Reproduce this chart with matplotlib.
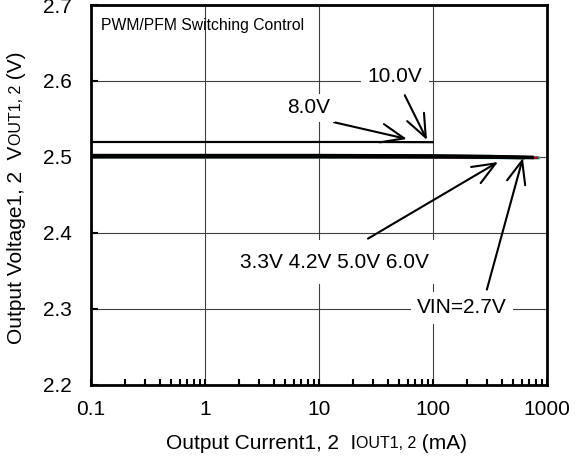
import matplotlib
matplotlib.use("Agg")
from matplotlib import pyplot as plt
from matplotlib.ticker import FixedLocator, LogLocator, NullFormatter

plt.rcParams['font.family'] = ['Liberation Sans', 'DejaVu Sans']

# Data
iout_hi = [0.1, 1, 10, 30, 100]
vout_8v = [2.5195, 2.5195, 2.5195, 2.5195, 2.5192]
vout_10v = [2.5200, 2.5200, 2.5200, 2.5200, 2.5197]

iout_27 = [0.1, 1, 10, 100, 300, 620]
vout_27 = [2.5005, 2.5005, 2.5005, 2.5003, 2.4998, 2.4990]
iout_33 = [0.1, 1, 10, 100, 300, 740]
vout_33 = [2.5020, 2.5020, 2.5020, 2.5015, 2.5008, 2.4995]
vout_42 = [2.5012, 2.5012, 2.5012, 2.5010, 2.5004, 2.4993]
iout_50 = [0.1, 1, 10, 100, 300, 820]
vout_50 = [2.5000, 2.5000, 2.5000, 2.4998, 2.4994, 2.4990]
iout_60 = [0.1, 1, 10, 100, 300, 850]
vout_60 = [2.4995, 2.4995, 2.4995, 2.4993, 2.4990, 2.4988]

x_ticks = [0.1, 1, 10, 100, 1000]
x_labels = ["0.1", "1", "10", "100", "1000"]
y_ticks = [2.2, 2.3, 2.4, 2.5, 2.6, 2.7]
y_labels = ["2.2", "2.3", "2.4", "2.5", "2.6", "2.7"]


def main():
    fig = plt.figure(figsize=(5.86, 4.63), dpi=100)
    ax = fig.add_axes([0.1553, 0.1685, 0.7781, 0.8207])

    ax.set_xscale("log")
    ax.set_xlim(0.1, 1000)
    ax.set_ylim(2.2, 2.7)

    # curves
    ax.plot(iout_60, vout_60, color="#20c0c0", lw=2)
    ax.plot(iout_50, vout_50, color="#a01010", lw=2)
    ax.plot(iout_33, vout_33, color="black", lw=2.4)
    ax.plot(iout_33, vout_42, color="black", lw=2.4)
    ax.plot(iout_27, vout_27, color="black", lw=2.4)
    ax.plot(iout_hi, vout_8v, color="black", lw=1.3)
    ax.plot(iout_hi, vout_10v, color="black", lw=1.3)

    # grid and ticks
    ax.grid(True, which="major", color="#404040", lw=0.8)
    ax.set_axisbelow(True)
    ax.xaxis.set_major_locator(FixedLocator(x_ticks))
    ax.set_xticklabels(x_labels)
    ax.xaxis.set_minor_locator(LogLocator(base=10, subs=range(2, 10)))
    ax.xaxis.set_minor_formatter(NullFormatter())
    ax.set_yticks(y_ticks)
    ax.set_yticklabels(y_labels)
    ax.tick_params(axis="x", which="both", direction="in", length=4, width=1.5,
                   pad=11, labelsize=15, top=False)
    ax.tick_params(axis="y", which="major", direction="in", length=5, width=1.5,
                   pad=14, labelsize=15, right=False)
    for sp in ax.spines.values():
        sp.set_linewidth(2)

    ax.text(0.022, 0.965, "PWM/PFM Switching Control", transform=ax.transAxes,
            fontsize=11.3, va="top", ha="left")

    # annotations
    arrow = dict(arrowstyle="->,head_length=1.1,head_width=0.45", color="black",
                 lw=1.5, shrinkB=0)
    ax.annotate("10.0V", xy=(88.6, 2.5224), xytext=(46.4, 2.6053), fontsize=15,
                ha="center", va="center",
                bbox=dict(boxstyle="square,pad=0.3", fc="white", ec="none"),
                arrowprops=dict(arrow, relpos=(0.6, 0)))
    ax.annotate("8.0V", xy=(59, 2.5237), xytext=(8.17, 2.5645), fontsize=15,
                ha="center", va="center",
                bbox=dict(boxstyle="square,pad=0.2", fc="white", ec="none"),
                arrowprops=dict(arrow, relpos=(0.6, 0)))
    ax.annotate("3.3V 4.2V 5.0V 6.0V", xy=(372, 2.4934), xytext=(13.8, 2.3618),
                fontsize=15, ha="center", va="center",
                bbox=dict(boxstyle="square,pad=0.6", fc="white", ec="none"),
                arrowprops=dict(arrow, relpos=(0.55, 1)))
    ax.annotate("VIN=2.7V", xy=(615, 2.4987), xytext=(179.6, 2.3013),
                fontsize=15, ha="center", va="center",
                bbox=dict(boxstyle="square,pad=0.3", fc="white", ec="none"),
                arrowprops=dict(arrow, relpos=(0.75, 1)))

    # x label with small caps part
    t1 = fig.text(0.283, 0.022, "Output Current1, 2  I", fontsize=15, va="bottom", ha="left")
    t2 = fig.text(0, 0, "OUT1, 2", fontsize=11.5, va="bottom", ha="left")
    t3 = fig.text(0, 0, " (mA)", fontsize=15, va="bottom", ha="left")
    fig.canvas.draw()
    r = fig.canvas.get_renderer()
    inv = fig.transFigure.inverted()
    b1 = t1.get_window_extent(r)
    x, y = inv.transform((b1.x1, b1.y0))
    t2.set_position((x, y + 0.004))
    b2 = t2.get_window_extent(r)
    x, _ = inv.transform((b2.x1, b2.y0))
    t3.set_position((x, y))

    # y label, rotated
    s1 = fig.text(0.012, 0.258, "Output Voltage1, 2  V", fontsize=15, rotation=90,
                  va="bottom", ha="left")
    s2 = fig.text(0, 0, "OUT1, 2", fontsize=11.5, rotation=90, va="bottom", ha="right")
    s3 = fig.text(0, 0, " (V)", fontsize=15, rotation=90, va="bottom", ha="right")
    c1 = s1.get_window_extent(r)
    x, y = inv.transform((c1.x1, c1.y1))
    s2.set_position((x - 0.004, y))
    c2 = s2.get_window_extent(r)
    _, y = inv.transform((c2.x1, c2.y1))
    s3.set_position((x, y))

    fig.savefig("out.png", dpi=100)
    plt.close(fig)


if __name__ == "__main__":
    main()
